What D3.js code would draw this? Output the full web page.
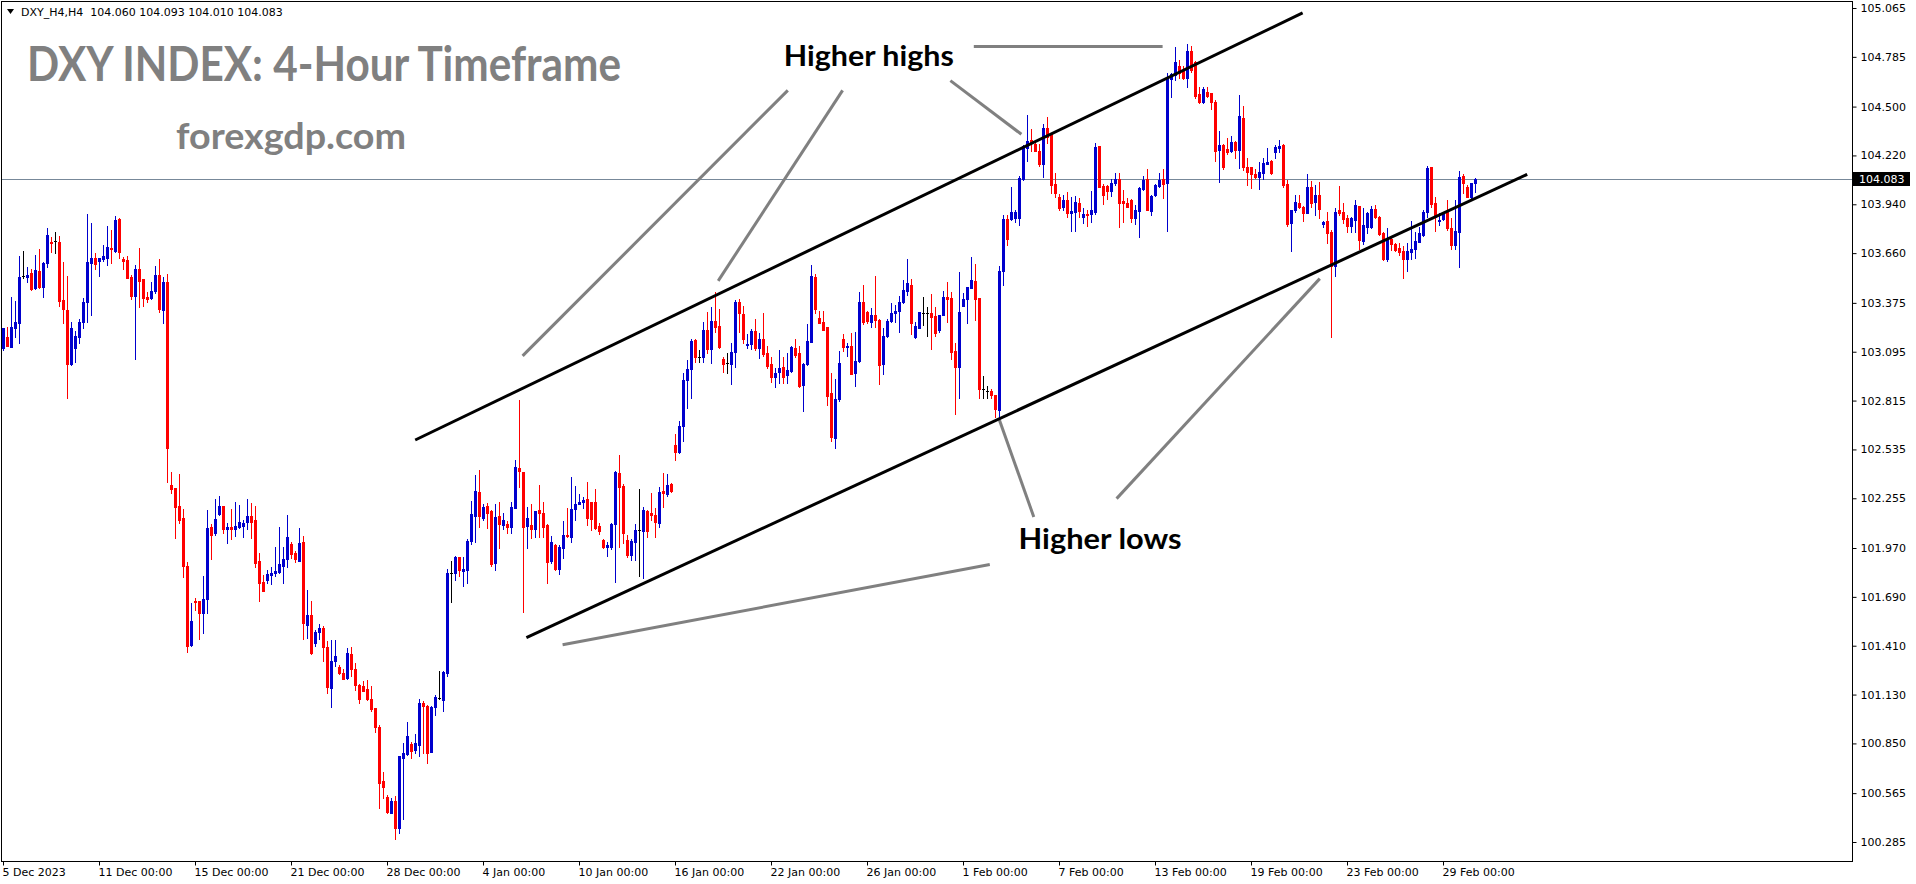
<!DOCTYPE html>
<html>
<head>
<meta charset="utf-8">
<script src="https://cdn.jsdelivr.net/npm/d3@7"></script>
<style>
  html, body { margin: 0; padding: 0; background: #fff; }
  svg { display: block; }
  .axis text { font-family: "DejaVu Sans", sans-serif; font-size: 11px; fill: #000; }
  .note { font-family: Lato, "Open Sans", sans-serif; font-weight: bold; }
</style>
</head>
<body>
<div id="chart"></div>
<script>
// DXY H4 candles, 5 Dec 2023 .. 29 Feb 2024 (one value per bar)
var opens = [
  103.116,103.180,103.122,103.231,103.260,103.530,103.524,103.547,103.460,103.558,
  103.466,103.604,103.725,103.730,103.725,103.392,103.334,103.025,103.116,103.180,
  103.266,103.380,103.604,103.633,103.615,103.627,103.633,103.690,103.672,103.856,
  103.627,103.621,103.524,103.414,103.569,103.512,103.409,103.403,103.443,103.535,
  103.334,103.495,102.331,102.314,102.211,102.142,101.867,101.415,101.666,101.666,
  101.598,101.678,102.091,102.057,102.165,102.211,102.080,102.091,102.080,102.091,
  102.097,102.120,102.154,102.131,101.896,101.776,101.787,101.816,101.827,101.833,
  101.867,101.907,101.993,101.942,101.896,102.005,101.529,101.587,101.426,101.489,
  101.512,101.403,101.168,101.323,101.289,101.254,101.225,101.363,101.277,101.185,
  101.180,101.163,101.105,101.053,100.945,100.635,100.543,100.452,100.520,100.366,
  100.767,100.790,100.847,100.813,100.841,101.082,101.065,100.801,101.059,101.111,
  101.099,101.254,101.827,101.827,101.919,101.839,101.844,102.011,102.154,102.291,
  102.142,102.211,102.182,101.885,102.154,102.102,102.108,102.091,102.200,102.429,
  102.406,102.097,102.102,102.080,102.188,102.171,102.102,101.896,101.988,101.850,
  101.970,102.045,102.034,102.194,102.222,102.234,102.251,102.234,102.234,102.097,
  102.016,101.976,101.976,102.108,102.400,102.326,102.016,101.930,102.005,102.074,
  102.068,102.182,102.171,102.159,102.114,102.297,102.280,102.337,102.561,102.521,
  102.670,102.933,102.997,103.162,103.065,103.065,103.220,103.111,103.271,103.243,
  103.054,103.031,103.025,103.094,103.380,103.311,103.134,103.139,103.214,103.116,
  103.168,103.088,103.025,102.950,102.979,103.008,102.962,102.985,103.116,103.088,
  102.905,103.025,103.151,103.524,103.289,103.266,103.237,102.859,102.601,102.824,
  103.168,103.122,103.128,102.974,103.042,103.380,103.323,103.266,103.306,103.277,
  103.025,103.185,103.271,103.317,103.329,103.380,103.443,103.478,103.180,103.231,
  103.317,103.317,103.317,103.300,103.220,103.306,103.409,103.403,103.099,103.008,
  103.358,103.397,103.460,103.501,103.403,102.882,102.870,102.870,102.847,102.761,
  103.558,103.856,103.856,103.862,103.862,104.085,104.263,104.309,104.286,104.246,
  104.171,104.377,104.343,104.056,103.982,103.925,103.965,103.890,103.896,103.948,
  103.867,103.885,103.885,103.896,104.274,104.045,104.045,104.016,104.062,104.085,
  103.959,103.948,103.965,103.862,103.902,104.028,104.085,103.902,103.993,104.045,
  104.085,104.062,104.658,104.681,104.733,104.710,104.664,104.819,104.756,104.572,
  104.526,104.584,104.578,104.526,104.251,104.280,104.257,104.246,104.297,104.251,
  104.435,104.154,104.154,104.114,104.097,104.120,104.171,104.188,104.240,104.263,
  104.280,104.056,103.833,103.908,103.948,103.925,103.890,104.039,103.953,103.993,
  103.827,103.844,103.781,103.587,103.908,103.896,103.862,103.816,103.850,103.931,
  103.730,103.810,103.810,103.913,103.867,103.776,103.627,103.741,103.713,103.690,
  103.672,103.627,103.667,103.684,103.725,103.764,103.896,104.154,103.948,103.845,
  103.856,103.896,103.804,103.707,103.781,104.102,104.039,103.982,104.060
];
var highs = [
  103.231,103.237,103.409,103.386,103.644,103.672,103.581,103.569,103.649,103.684,
  103.610,103.804,103.753,103.782,103.759,103.610,103.530,103.266,103.214,103.283,
  103.403,103.885,103.833,103.661,103.633,103.707,103.816,103.793,103.873,103.862,
  103.638,103.644,103.535,103.592,103.690,103.512,103.437,103.495,103.587,103.627,
  103.524,103.541,102.406,102.314,102.394,102.194,101.890,101.655,101.684,101.666,
  101.810,102.188,102.108,102.251,102.268,102.211,102.114,102.194,102.234,102.217,
  102.131,102.251,102.228,102.211,101.942,101.816,101.844,101.861,101.976,102.091,
  101.976,102.159,102.005,101.953,102.085,102.040,101.730,101.666,101.500,101.535,
  101.523,101.437,101.443,101.443,101.300,101.277,101.397,101.403,101.312,101.191,
  101.208,101.214,101.180,101.053,100.956,100.687,100.555,100.538,100.549,100.778,
  100.853,100.973,100.859,100.904,101.105,101.094,101.071,101.065,101.128,101.266,
  101.266,101.850,101.896,101.925,101.919,101.919,102.022,102.240,102.389,102.417,
  102.222,102.228,102.188,102.222,102.234,102.171,102.125,102.234,102.475,102.819,
  102.406,102.205,102.222,102.182,102.331,102.234,102.108,102.040,101.993,101.988,
  102.125,102.200,102.377,102.326,102.280,102.263,102.349,102.234,102.309,102.114,
  102.022,102.005,102.114,102.412,102.503,102.337,102.045,102.022,102.108,102.309,
  102.205,102.188,102.286,102.200,102.320,102.400,102.394,102.343,102.624,102.698,
  102.974,103.048,103.168,103.168,103.105,103.266,103.323,103.352,103.437,103.340,
  103.065,103.088,103.145,103.392,103.397,103.358,103.197,103.226,103.283,103.203,
  103.317,103.128,103.065,103.002,103.105,103.065,103.088,103.128,103.168,103.128,
  103.031,103.254,103.592,103.541,103.329,103.329,103.237,102.974,102.939,103.099,
  103.197,103.145,103.203,103.208,103.437,103.478,103.329,103.346,103.530,103.283,
  103.231,103.283,103.374,103.363,103.414,103.506,103.627,103.512,103.266,103.323,
  103.409,103.352,103.426,103.352,103.306,103.443,103.495,103.437,103.145,103.552,
  103.432,103.466,103.638,103.598,103.403,102.956,102.899,102.882,102.847,103.587,
  103.879,103.879,104.039,103.908,104.102,104.280,104.452,104.372,104.297,104.286,
  104.400,104.441,104.343,104.120,103.999,103.993,104.011,103.982,103.988,103.976,
  103.919,103.908,104.016,104.291,104.274,104.056,104.051,104.085,104.120,104.120,
  104.022,103.976,103.971,103.936,104.039,104.102,104.142,103.993,104.056,104.120,
  104.142,104.693,104.693,104.842,104.767,104.733,104.859,104.847,104.761,104.612,
  104.612,104.612,104.578,104.538,104.360,104.286,104.320,104.332,104.303,104.567,
  104.504,104.206,104.154,104.142,104.183,104.206,104.263,104.194,104.280,104.309,
  104.286,104.079,103.908,103.993,103.993,103.931,104.114,104.074,104.051,104.068,
  103.844,103.896,103.793,103.919,104.045,103.948,103.879,103.867,103.965,103.931,
  103.919,103.896,103.931,103.936,103.873,103.781,103.804,103.753,103.719,103.719,
  103.701,103.719,103.845,103.782,103.810,103.908,104.160,104.154,103.982,103.890,
  103.896,103.965,103.862,103.965,104.131,104.114,104.051,104.062,104.093
];
var lows = [
  103.105,103.128,103.122,103.180,103.145,103.518,103.495,103.449,103.455,103.460,
  103.409,103.581,103.667,103.661,103.358,103.260,102.830,103.019,103.037,103.145,
  103.231,103.266,103.305,103.569,103.530,103.615,103.592,103.604,103.667,103.633,
  103.569,103.518,103.397,103.054,103.352,103.358,103.380,103.397,103.432,103.323,
  103.260,102.349,102.286,102.028,102.114,101.804,101.375,101.409,101.615,101.449,
  101.483,101.598,101.907,102.045,102.159,102.057,101.999,102.022,102.040,102.085,
  102.034,102.080,102.028,101.861,101.666,101.724,101.770,101.764,101.810,101.827,
  101.770,101.861,101.913,101.890,101.896,101.449,101.454,101.363,101.409,101.449,
  101.323,101.140,101.059,101.294,101.248,101.220,101.220,101.237,101.157,101.082,
  101.151,101.099,101.036,100.916,100.480,100.538,100.452,100.452,100.303,100.337,
  100.418,100.784,100.767,100.796,100.778,100.796,100.738,100.801,101.013,101.105,
  101.036,101.237,101.661,101.787,101.810,101.753,101.770,101.993,102.005,102.091,
  102.131,102.085,101.867,101.844,101.970,102.080,102.057,102.057,102.200,102.320,
  101.604,101.970,102.028,102.034,102.034,102.034,101.770,101.885,101.844,101.821,
  101.913,102.034,102.005,102.131,102.222,102.200,102.102,102.074,102.080,102.051,
  101.970,101.925,101.965,101.776,101.976,101.999,101.919,101.902,101.902,101.810,
  101.798,102.034,102.131,102.034,102.091,102.205,102.268,102.291,102.475,102.515,
  102.584,102.773,102.830,103.037,103.037,103.037,103.088,103.031,103.208,103.116,
  102.979,102.974,102.910,103.008,103.208,103.145,103.116,103.111,103.105,103.059,
  103.071,103.002,102.922,102.893,102.916,102.916,102.916,102.979,103.065,102.893,
  102.756,103.019,103.151,103.317,103.260,103.220,102.790,102.584,102.543,102.813,
  103.099,103.071,102.968,102.899,103.037,103.254,103.260,103.237,103.237,102.910,
  102.968,103.180,103.266,103.266,103.208,103.374,103.420,103.197,103.174,103.231,
  103.248,103.185,103.111,103.185,103.208,103.306,103.266,103.054,102.738,102.830,
  103.358,103.260,103.460,103.277,102.830,102.830,102.830,102.830,102.721,102.715,
  103.478,103.707,103.850,103.839,103.822,104.079,104.188,104.246,104.246,104.160,
  104.097,104.291,104.005,103.982,103.908,103.908,103.867,103.787,103.787,103.867,
  103.833,103.816,103.839,103.885,104.039,103.942,103.970,103.988,104.051,103.810,
  103.839,103.925,103.839,103.827,103.753,104.022,103.908,103.879,103.988,104.039,
  103.976,103.787,104.555,104.653,104.664,104.658,104.612,104.698,104.549,104.521,
  104.521,104.555,104.486,104.188,104.068,104.142,104.228,104.240,104.206,104.148,
  104.137,104.051,104.034,104.091,104.028,104.085,104.171,104.114,104.206,104.240,
  104.039,103.816,103.672,103.896,103.919,103.844,103.890,103.925,103.879,103.862,
  103.810,103.719,103.180,103.530,103.879,103.833,103.781,103.781,103.781,103.684,
  103.713,103.776,103.804,103.862,103.764,103.621,103.615,103.678,103.672,103.650,
  103.518,103.558,103.627,103.633,103.725,103.759,103.867,103.925,103.787,103.822,
  103.850,103.793,103.684,103.684,103.581,104.005,103.982,103.971,104.010
];
var closes = [
  103.231,103.128,103.237,103.266,103.524,103.530,103.535,103.455,103.564,103.466,
  103.604,103.764,103.719,103.730,103.386,103.340,103.025,103.231,103.185,103.266,
  103.380,103.610,103.633,103.598,103.633,103.644,103.696,103.684,103.850,103.667,
  103.615,103.518,103.414,103.569,103.501,103.403,103.397,103.443,103.535,103.340,
  103.495,102.543,102.309,102.205,102.131,101.867,101.409,101.552,101.661,101.598,
  101.678,102.085,102.045,102.137,102.211,102.080,102.091,102.080,102.097,102.120,
  102.114,102.154,102.120,101.885,101.770,101.724,101.821,101.827,101.839,101.879,
  101.907,102.034,101.936,101.907,101.999,101.541,101.587,101.369,101.489,101.512,
  101.403,101.174,101.323,101.352,101.254,101.220,101.369,101.277,101.185,101.105,
  101.151,101.105,101.048,100.945,100.624,100.601,100.458,100.520,100.366,100.778,
  100.796,100.893,100.807,100.853,101.082,101.065,100.796,101.059,101.117,101.111,
  101.260,101.827,101.827,101.919,101.844,101.850,102.011,102.165,102.297,102.154,
  102.205,102.171,101.879,102.148,102.108,102.131,102.091,102.205,102.435,102.412,
  102.091,102.142,102.080,102.182,102.171,102.091,101.890,102.005,101.850,101.976,
  102.045,102.040,102.194,102.222,102.234,102.245,102.142,102.137,102.085,102.068,
  101.976,101.988,102.108,102.406,102.320,102.057,101.930,102.011,102.074,102.074,
  102.188,102.068,102.159,102.120,102.291,102.286,102.331,102.297,102.521,102.670,
  102.933,102.997,103.157,103.065,103.065,103.220,103.111,103.271,103.237,103.122,
  103.025,103.031,103.094,103.380,103.317,103.168,103.139,103.214,103.116,103.168,
  103.082,103.014,102.950,102.974,103.002,102.950,102.991,103.122,103.077,102.899,
  103.025,103.157,103.530,103.340,103.260,103.220,102.842,102.607,102.824,103.031,
  103.122,103.128,102.968,103.042,103.380,103.266,103.271,103.306,103.277,103.019,
  103.185,103.271,103.317,103.329,103.380,103.449,103.489,103.260,103.243,103.323,
  103.317,103.317,103.294,103.203,103.306,103.409,103.397,103.094,103.008,103.323,
  103.397,103.466,103.506,103.397,102.882,102.882,102.870,102.847,102.767,103.558,
  103.856,103.741,103.896,103.896,104.091,104.274,104.303,104.291,104.246,104.171,
  104.377,104.326,104.051,104.005,103.919,103.965,103.890,103.902,103.953,103.902,
  103.885,103.879,103.908,104.268,104.039,103.993,104.016,104.062,104.085,103.948,
  103.948,103.925,103.862,103.908,104.034,104.079,103.908,103.988,104.051,104.079,
  104.056,104.664,104.687,104.756,104.693,104.664,104.819,104.710,104.561,104.526,
  104.601,104.561,104.526,104.246,104.280,104.154,104.240,104.297,104.251,104.446,
  104.154,104.125,104.114,104.097,104.125,104.177,104.183,104.120,104.268,104.274,
  104.051,103.827,103.908,103.953,103.925,103.890,104.039,103.948,103.993,103.913,
  103.839,103.776,103.587,103.896,103.890,103.856,103.816,103.862,103.936,103.736,
  103.822,103.890,103.913,103.867,103.770,103.627,103.747,103.713,103.678,103.667,
  103.627,103.672,103.684,103.730,103.776,103.896,104.148,103.942,103.867,103.850,
  103.890,103.804,103.707,103.787,104.097,104.062,103.982,104.062,104.083
];

// time axis labels (bar index -> text)
var timeTickBars = [0, 24, 48, 72, 96, 120, 144, 168, 192, 216, 240, 264, 288, 312, 336, 360];
var timeTickLabels = ["5 Dec 2023", "11 Dec 00:00", "15 Dec 00:00", "21 Dec 00:00", "28 Dec 00:00",
  "4 Jan 00:00", "10 Jan 00:00", "16 Jan 00:00", "22 Jan 00:00", "26 Jan 00:00", "1 Feb 00:00",
  "7 Feb 00:00", "13 Feb 00:00", "19 Feb 00:00", "23 Feb 00:00", "29 Feb 00:00"];
var priceTicks = [105.065, 104.785, 104.500, 104.220, 103.940, 103.660, 103.375, 103.095, 102.815,
  102.535, 102.255, 101.970, 101.690, 101.410, 101.130, 100.850, 100.565, 100.285];

// drawn objects: [bar, price] end points
var channelLines = [
  [[103.05, 102.589], [324.9, 105.037]],
  [[130.85, 101.456], [381.05, 104.112]]
];
var pointerLines = [
  [[129.9, 103.071], [196.2, 104.593]],
  [[178.8, 103.501], [209.9, 104.593]],
  [[254.6, 104.341], [236.85, 104.649]],
  [[242.7, 104.845], [289.9, 104.845]],
  [[249.1, 102.704], [257.7, 102.148]],
  [[278.4, 102.253], [329.2, 103.514]],
  [[139.9, 101.415], [246.7, 101.876]]
];
var noteTexts = ["Higher highs", "Higher lows"];
var noteAnchors = [[195.2, 104.733], [253.9, 101.965]];

var W = 1916, H = 884;
var plotRight = 1852, plotBottom = 861;

var x = d3.scaleLinear().domain([0, 1]).range([3, 7]);
var y = d3.scaleLinear().domain([100.285, 105.065]).range([842, 8]);

var svg = d3.select("#chart").append("svg")
  .attr("width", W)
  .attr("height", H);

svg.append("defs").append("clipPath").attr("id", "plot")
  .append("rect")
  .attr("x", 2).attr("y", 2)
  .attr("width", plotRight - 2).attr("height", plotBottom - 2);

var plot = svg.append("g").attr("clip-path", "url(#plot)");

var last = closes.length - 1;

// bid line
plot.append("line")
  .attr("x1", 2).attr("x2", plotRight)
  .attr("y1", Math.round(y(closes[last])) + 0.5)
  .attr("y2", Math.round(y(closes[last])) + 0.5)
  .attr("stroke", "#778899")
  .attr("stroke-width", 1);

var candles = d3.range(opens.length).map(function (i) {
  return {i: i, o: opens[i], h: highs[i], l: lows[i], c: closes[i]};
});

function candleColor(d) {
  if (d.c > d.o) return "#0000cd";
  if (d.c < d.o) return "#ff0000";
  return "#000";
}

var cg = plot.append("g").attr("shape-rendering", "crispEdges");

// wicks
cg.selectAll(".wick")
  .data(candles)
  .enter().append("rect")
  .attr("class", "wick")
  .attr("x", function (d) { return Math.round(x(d.i)); })
  .attr("width", 1)
  .attr("y", function (d) { return Math.round(y(d.h)); })
  .attr("height", function (d) { return Math.max(1, Math.round(y(d.l)) - Math.round(y(d.h)) + 1); })
  .attr("fill", candleColor);

// bodies
cg.selectAll(".body")
  .data(candles)
  .enter().append("rect")
  .attr("class", "body")
  .attr("x", function (d) { return Math.round(x(d.i)) - 1; })
  .attr("width", 3)
  .attr("y", function (d) { return Math.round(y(Math.max(d.o, d.c))); })
  .attr("height", function (d) {
    return Math.max(1, Math.round(y(Math.min(d.o, d.c))) - Math.round(y(Math.max(d.o, d.c))) + 1);
  })
  .attr("fill", candleColor);

// drawn trend lines
var seg = d3.line()
  .x(function (d) { return x(d[0]); })
  .y(function (d) { return y(d[1]); });

plot.selectAll(".pointer")
  .data(pointerLines)
  .enter().append("path")
  .attr("class", "pointer")
  .attr("d", seg)
  .attr("stroke", "#808080")
  .attr("stroke-width", 3)
  .attr("fill", "none");

plot.selectAll(".channel")
  .data(channelLines)
  .enter().append("path")
  .attr("class", "channel")
  .attr("d", seg)
  .attr("stroke", "#000")
  .attr("stroke-width", 3)
  .attr("fill", "none");

plot.selectAll(".note")
  .data(noteTexts)
  .enter().append("text")
  .attr("class", "note")
  .attr("x", function (d, i) { return x(noteAnchors[i][0]); })
  .attr("y", function (d, i) { return y(noteAnchors[i][1]); })
  .attr("font-size", 29)
  .attr("textLength", function (d, i) { return i === 0 ? 170 : 163; })
  .attr("lengthAdjust", "spacingAndGlyphs")
  .attr("fill", "#000")
  .text(function (d) { return d; });

// frame
svg.append("rect")
  .attr("x", 1.5).attr("y", 1.5)
  .attr("width", plotRight - 1).attr("height", plotBottom - 1)
  .attr("fill", "none")
  .attr("stroke", "#000")
  .attr("stroke-width", 1)
  .attr("shape-rendering", "crispEdges");

// price axis
var yAxis = svg.append("g")
  .attr("class", "axis")
  .attr("transform", "translate(" + (plotRight + 0.5) + ",0)")
  .call(d3.axisRight(y).tickValues(priceTicks).tickFormat(d3.format(".3f")).tickSize(4).tickPadding(4));
yAxis.select(".domain").remove();
yAxis.selectAll(".tick line").attr("stroke", "#000");

// time axis
var xAxis = svg.append("g")
  .attr("class", "axis")
  .attr("transform", "translate(0," + (plotBottom + 0.5) + ")")
  .call(d3.axisBottom(x).tickValues(timeTickBars)
    .tickFormat(function (d, i) { return timeTickLabels[i]; })
    .tickSize(4).tickPadding(3));
xAxis.select(".domain").remove();
xAxis.selectAll(".tick line").attr("stroke", "#000");
xAxis.selectAll(".tick text").attr("text-anchor", "start").attr("dx", -1);

// current price tag
var tagY = Math.round(y(closes[last]));
svg.append("rect")
  .attr("x", plotRight + 1).attr("y", tagY - 7)
  .attr("width", 57).attr("height", 14)
  .attr("fill", "#000");
svg.append("text")
  .attr("class", "axis")
  .attr("x", plotRight + 7).attr("y", tagY + 4)
  .attr("font-family", "DejaVu Sans, sans-serif")
  .attr("font-size", 11)
  .attr("fill", "#fff")
  .text(d3.format(".3f")(closes[last]));

// header line
svg.append("path")
  .attr("d", "M7,9 L14,9 L10.5,14 Z")
  .attr("fill", "#000");
svg.append("text")
  .attr("x", 21).attr("y", 16)
  .attr("font-family", "DejaVu Sans, sans-serif")
  .attr("font-size", 11)
  .attr("fill", "#000")
  .attr("xml:space", "preserve")
  .text("DXY_H4,H4  " + [opens[last], highs[last], lows[last], closes[last]].map(d3.format(".3f")).join(" "));

// chart labels
svg.append("text")
  .attr("class", "note")
  .attr("x", 27).attr("y", 81)
  .attr("font-size", 48)
  .attr("fill", "#808080")
  .attr("textLength", 594)
  .attr("lengthAdjust", "spacingAndGlyphs")
  .text("DXY INDEX: 4-Hour Timeframe");
svg.append("text")
  .attr("class", "note")
  .attr("x", 176).attr("y", 149)
  .attr("font-size", 36)
  .attr("fill", "#808080")
  .attr("textLength", 230)
  .attr("lengthAdjust", "spacingAndGlyphs")
  .text("forexgdp.com");
</script>
</body>
</html>
